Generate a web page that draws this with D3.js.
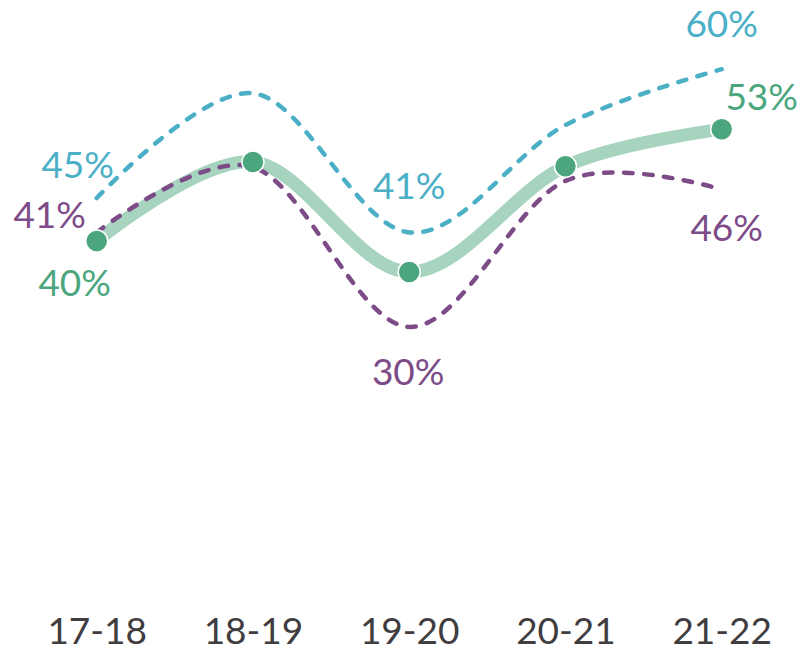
<!DOCTYPE html>
<html>
<head>
<meta charset="utf-8">
<script src="https://cdn.jsdelivr.net/npm/d3@7"></script>
<style>
  html, body { margin: 0; padding: 0; background: #fff; }
  svg { display: block; }
  text { font-family: Lato, "Liberation Sans", sans-serif; }
</style>
</head>
<body>
<svg id="chart" width="803" height="650"></svg>
<script>
// School years on the x axis
const years = ["17-18", "18-19", "19-20", "20-21", "21-22"];

// Percentages per year
const mainSeries = [40, 49.2, 36.4, 48.7, 53];    // solid green, with markers
const upperSeries = [45, 57.2, 41, 53.5, 60];     // dashed teal
const lowerSeries = [41, 48.6, 30, 47, 46];       // dashed purple

// Which points carry a value label
const mainLabelled = [0, 4];
const upperLabelled = [0, 2, 4];
const lowerLabelled = [0, 2, 4];

const colors = {
  main: "#4BA67E",
  mainLine: "#A6D4BF",
  upper: "#4BAFC6",
  lower: "#7D4B88",
  axisText: "#403C40"
};

const svg = d3.select("#chart");

const x = d3.scalePoint()
  .domain(years)
  .range([96.7, 721.7]);

const y = d3.scaleLinear()
  .domain([0, 60])
  .range([584.6, 69.2]);

const curve = d3.curveCardinal.tension(0);

const line = d3.line()
  .x((d, i) => x(years[i]))
  .y(d => y(d))
  .curve(curve);

// Thick smoothed main line
svg.append("path")
  .datum(mainSeries)
  .attr("d", line)
  .attr("fill", "none")
  .attr("stroke", colors.mainLine)
  .attr("stroke-width", 13)
  .attr("stroke-linecap", "butt");

// Dashed comparison lines
function dashed(series, color) {
  svg.append("path")
    .datum(series)
    .attr("d", line)
    .attr("fill", "none")
    .attr("stroke", color)
    .attr("stroke-width", 4.5)
    .attr("stroke-linecap", "round")
    .attr("stroke-dasharray", "8.5,11.5");
}
dashed(upperSeries, colors.upper);
dashed(lowerSeries, colors.lower);

// Markers on the main line
svg.append("g")
  .selectAll("circle")
  .data(mainSeries)
  .join("circle")
  .attr("cx", (d, i) => x(years[i]))
  .attr("cy", d => y(d))
  .attr("r", 11)
  .attr("fill", colors.main)
  .attr("stroke", "#fff")
  .attr("stroke-width", 1.5);

// Value labels: offset of the text's centre/baseline from its point
const fmt = d => Math.round(d) + "%";
function labels(series, idx, color, offsets) {
  svg.append("g")
    .selectAll("text")
    .data(idx)
    .join("text")
    .attr("x", (i, k) => x(years[i]) + offsets[k][0])
    .attr("y", (i, k) => y(series[i]) + offsets[k][1])
    .attr("text-anchor", "middle")
    .attr("font-size", 37)
    .attr("fill", color)
    .text(i => fmt(series[i]));
}
labels(upperSeries, upperLabelled, colors.upper, [[-19, -20], [0, -33], [0, -32]]);
labels(lowerSeries, lowerLabelled, colors.lower, [[-47, -4], [-1, 58], [5, 52]]);
labels(mainSeries, mainLabelled, colors.main, [[-22, 55], [40, -19]]);

// Category axis
const axis = d3.axisBottom(x).tickSize(0).tickPadding(0);
const gx = svg.append("g")
  .attr("transform", "translate(0,617)")
  .call(axis);
gx.select(".domain").remove();
gx.selectAll("text")
  .attr("font-family", "Lato, 'Liberation Sans', sans-serif")
  .attr("font-size", 37)
  .attr("fill", colors.axisText)
  .attr("dy", "0.72em");
</script>
</body>
</html>
